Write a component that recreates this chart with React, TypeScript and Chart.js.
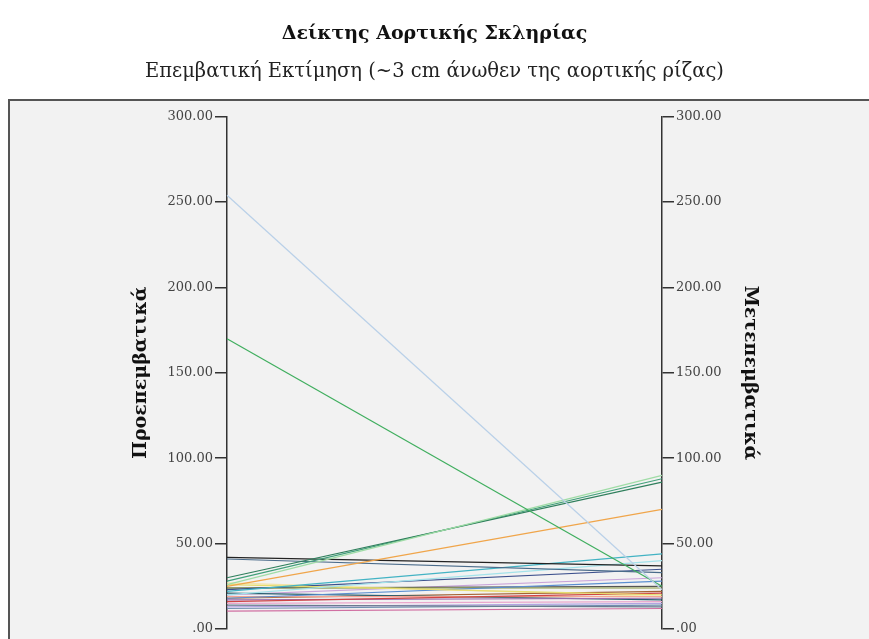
import React, { useEffect, useRef } from "react";
import { Chart, registerables } from "chart.js";

Chart.register(...registerables);

const titleText = "Δείκτης Αορτικής Σκληρίας";
const subtitleText = "Επεμβατική Εκτίμηση (~3 cm άνωθεν της αορτικής ρίζας)";
const categories = ["Προεπεμβατικά", "Μετεπεμβατικά"];
const leftAxisTitle = "Προεπεμβατικά";
const rightAxisTitle = "Μετεπεμβατικά";
const tickValues = [0, 50, 100, 150, 200, 250, 300];

// pre-intervention values (left axis)
const preValues = [254, 170, 26, 30, 28, 25, 42, 41, 22, 20, 26, 23, 18, 16, 17, 15, 10.5, 14, 19, 24, 13, 21, 18, 27, 12, 24, 20];
// post-intervention values (right axis)
const postValues = [23, 25, 90, 86, 88, 70, 37, 33, 44, 40, 20, 35, 28, 21, 18, 16, 12, 13, 19, 24, 15, 17, 22, 19, 14, 25, 30];
const lineColors = [
  "#b9d0e8", "#3fae5e", "#9fdca6", "#2f7f5c", "#41a07a", "#f0a54a", "#222222", "#4a6b8a",
  "#43b3c4", "#a3e2ea", "#e6dd6e", "#3b4f8c", "#5a8ed0", "#d04545", "#9a6fb0", "#eaa6cc",
  "#d06fa2", "#6a7a90", "#f2a494", "#8a9a40", "#b3a4e2", "#2a6070", "#a46434", "#f3e3a4",
  "#7090b0", "#555555", "#c9a3d9",
];

const framePlugin = {
  id: "frame",
  beforeDraw(chart: any) {
    const ctx = chart.ctx;
    ctx.save();
    ctx.fillStyle = "#ffffff";
    ctx.fillRect(0, 0, chart.width, chart.height);
    ctx.fillStyle = "#f2f2f2";
    ctx.fillRect(9, 100, chart.width + 20, chart.height + 20);
    ctx.strokeStyle = "#555555";
    ctx.lineWidth = 2;
    ctx.strokeRect(9, 100, chart.width + 20, chart.height + 20);
    ctx.restore();
  },
};

export default function App() {
  const ref = useRef<HTMLCanvasElement | null>(null);
  useEffect(() => {
    if (!ref.current) return;
    const datasets = preValues.map((p, i) => ({
      label: "case " + (i + 1),
      data: [p, postValues[i]],
      borderColor: lineColors[i],
      backgroundColor: lineColors[i],
      borderWidth: 1.2,
      pointRadius: 0,
      yAxisID: "y",
      fill: false,
      tension: 0,
    }));
    const fmt = (v: any) => (Number(v) === 0 ? ".00" : Number(v).toFixed(2));
    const axisCommon = {
      min: 0,
      max: 300,
      afterBuildTicks: (scale: any) => {
        scale.ticks = tickValues.map((v) => ({ value: v }));
      },
      grid: { drawOnChartArea: false, drawTicks: true, tickLength: 12, color: "#333333", lineWidth: 1.5 },
      border: { display: true, color: "#333333", width: 1.5 },
    };
    const chart = new Chart(ref.current, {
      type: "line",
      data: { labels: categories, datasets },
      plugins: [framePlugin],
      options: {
        animation: false,
        responsive: false,
        layout: { padding: { left: 0, right: 0, top: 0, bottom: 10 } },
        plugins: {
          legend: { display: false },
          tooltip: { enabled: false },
          title: {
            display: true,
            text: titleText,
            color: "#111111",
            font: { family: "DejaVu Serif", size: 19, weight: "bold" },
            padding: { top: 23, bottom: 0 },
          },
          subtitle: {
            display: true,
            text: subtitleText,
            color: "#222222",
            font: { family: "DejaVu Serif", size: 19.5 },
            padding: { top: 14, bottom: 33.5 },
          },
        },
        scales: {
          x: { type: "category", display: false, offset: false },
          y: {
            ...axisCommon,
            position: "left",
            afterFit: (s: any) => { s.width = 227; },
            ticks: { callback: fmt, color: "#444444", padding: 2, font: { family: "DejaVu Serif", size: 13 } },
            title: {
              display: true,
              text: leftAxisTitle,
              color: "#111111",
              font: { family: "DejaVu Serif", size: 19, weight: "bold" },
              padding: { top: 130, bottom: 0 },
            },
          },
          y2: {
            ...axisCommon,
            display: true,
            position: "right",
            afterFit: (s: any) => { s.width = 207; },
            ticks: { callback: fmt, color: "#444444", padding: 2, font: { family: "DejaVu Serif", size: 13 } },
            title: {
              display: true,
              text: rightAxisTitle,
              color: "#111111",
              font: { family: "DejaVu Serif", size: 19, weight: "bold" },
              padding: { top: 107.5, bottom: 0 },
            },
          },
        },
      },
    } as any);
    return () => chart.destroy();
  }, []);
  return (
    <div style={{ position: "fixed", left: 0, top: 0, width: 869, height: 639, overflow: "hidden", background: "#fff" }}>
      <canvas ref={ref} width={869} height={639} style={{ display: "block" }} />
    </div>
  );
}
